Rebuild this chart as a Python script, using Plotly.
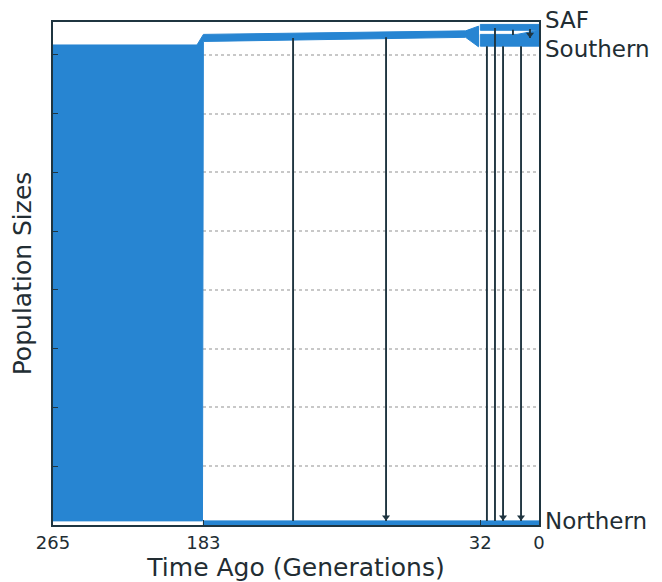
import plotly.graph_objects as go

# ---------------- data (generations ago, population size units) ----------------
x_ticks = [265, 183, 32, 0]
y_grid = [1000, 2000, 3000, 4000, 5000, 6000, 7000, 8000]

# Ancestral population (265 -> 183) continuing as the upper lineage until 32
anc_upper_t = [265, 186.5, 183, 40, 33]
anc_upper_y = [8170, 8170, 8350, 8410, 8490]
anc_lower_t = [33, 40, 183, 183.5, 265]
anc_lower_y = [8140, 8300, 8230, 70, 70]

# SAF (32 -> 0)
saf_t = [32, 0, 0, 32]
saf_y = [8520, 8520, 8420, 8420]

# Southern (32 -> 0)
south_t = [32, 12, 0, 0, 32]
south_y = [8350, 8350, 8420, 8150, 8150]

# Northern (183 -> 0)
north_t = [183, 0, 0, 183]
north_y = [70, 70, 0, 0]

# migration pulses: time, from y, to y, arrow head
mig_t = [134.1, 83.4, 28.4, 24.0, 19.6, 14.2, 9.8, 4.9]
mig_from = [8290, 8300, 8150, 8460, 8150, 8430, 8150, 8440]
mig_to = [70, 70, 70, 70, 70, 8340, 70, 8290]
mig_head = [False, True, False, False, True, False, True, True]

labels = ["SAF", "Southern", "Northern"]
label_y = [1.003, 0.947, 0.008]

BLUE = "#2785d2"
DARK = "#1f3540"
TXT = "#222d33"

fig = go.Figure()

def poly(ts, ys):
    fig.add_trace(go.Scatter(x=ts + [ts[0]], y=ys + [ys[0]], mode="lines",
                             fill="toself", fillcolor=BLUE,
                             line=dict(color=BLUE, width=1),
                             hoverinfo="skip", showlegend=False))

poly(anc_upper_t + anc_lower_t, anc_upper_y + anc_lower_y)
poly(saf_t, saf_y)
poly(south_t, south_y)
poly(north_t, north_y)

for t, a, b, h in zip(mig_t, mig_from, mig_to, mig_head):
    fig.add_trace(go.Scatter(x=[t, t], y=[a, b], mode="lines",
                             line=dict(color=DARK, width=1.9),
                             hoverinfo="skip", showlegend=False))
    if h:
        fig.add_trace(go.Scatter(x=[t], y=[b + 60], mode="markers",
                                 marker=dict(symbol="triangle-down", size=7, color=DARK),
                                 hoverinfo="skip", showlegend=False))

for lab, yv in zip(labels, label_y):
    fig.add_annotation(x=1, xref="paper", y=yv, yref="paper", text=lab,
                       showarrow=False, xanchor="left", yanchor="middle", xshift=4,
                       font=dict(family="DejaVu Sans", size=23, color=TXT))

fig.update_layout(
    width=654, height=574,
    margin=dict(l=45, r=123, t=14, b=57),
    paper_bgcolor="white", plot_bgcolor="white",
    font=dict(family="DejaVu Sans", color=TXT),
)
fig.update_xaxes(
    range=[265, 0], tickvals=x_ticks, ticktext=[str(v) for v in x_ticks],
    ticks="inside", ticklen=5, tickcolor=DARK, tickfont=dict(size=18, color=TXT),
    showline=True, linecolor=DARK, linewidth=2, mirror=True, showgrid=False,
    zeroline=False, automargin=False,
    title=dict(text="Time Ago (Generations)", font=dict(size=25, color=TXT), standoff=4),
    layer="above traces",
)
fig.update_yaxes(
    range=[0, 8561], tickvals=y_grid, showticklabels=False,
    ticks="inside", ticklen=5, tickcolor=DARK,
    showline=True, linecolor=DARK, linewidth=2, mirror=True,
    showgrid=True, gridcolor="#c8c8c8", griddash="dot", gridwidth=1.5,
    zeroline=False, automargin=False,
    title=dict(text="Population Sizes", font=dict(size=25, color=TXT), standoff=15),
    layer="above traces",
)

fig.write_html("out.html")
